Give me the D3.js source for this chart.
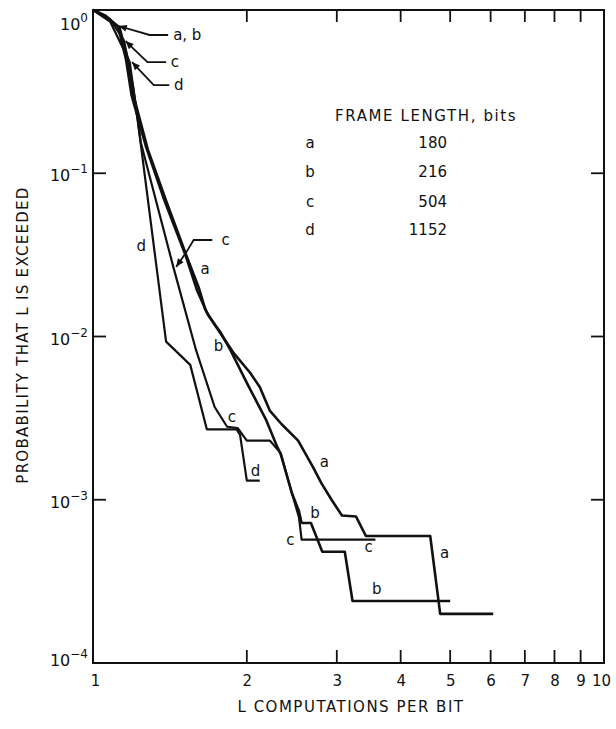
<!DOCTYPE html>
<html><head><meta charset="utf-8">
<script src="https://cdn.jsdelivr.net/npm/d3@7"></script>
<style>
body{margin:0;background:#fff}
svg{display:block}
text{font-family:"DejaVu Sans",sans-serif;fill:#111}
</style>
</head><body>
<svg id="chart" width="616" height="729"></svg>
<script>
// ---------- data ----------
const curveLetters = ["a", "b", "c", "d"];
const frameLengths = ["180", "216", "504", "1152"];
const xTickValues = [1, 2, 3, 4, 5, 6, 7, 8, 9, 10];
const yTickExponents = [0, -1, -2, -3, -4];

// [L computations per bit, probability that L is exceeded]
const curveA = [[1,1],[1.06,0.92],[1.127,0.78],[1.17,0.5],[1.2,0.3],[1.28,0.14],[1.39,0.068],[1.525,0.031],
  [1.61,0.02],[1.66,0.0145],[1.74,0.0115],[1.88,0.008],[2.03,0.006],[2.12,0.0049],[2.22,0.0035],[2.34,0.0029],
  [2.52,0.0023],[2.69,0.0016],[2.8,0.00126],[2.93,0.001],[3.07,0.0008],[3.27,0.00079],[3.42,0.0006],
  [4.57,0.0006],[4.78,0.0002],[6.07,0.0002]];
const curveB = [[1,1],[1.05,0.93],[1.12,0.79],[1.16,0.5],[1.19,0.3],[1.27,0.145],[1.38,0.068],[1.52,0.031],
  [1.6,0.019],[1.68,0.0135],[1.78,0.0105],[1.86,0.0082],[2.0,0.0052],[2.18,0.0031],[2.28,0.0022],[2.33,0.0019],
  [2.45,0.0011],[2.53,0.00085],[2.56,0.00072],[2.67,0.00072],[2.81,0.00048],[3.11,0.00048],[3.22,0.00024],[5.0,0.00024]];
const curveC = [[1,1],[1.08,0.88],[1.15,0.65],[1.2,0.33],[1.24,0.155],[1.436,0.0267],[1.59,0.0083],[1.73,0.0037],
  [1.83,0.0028],[1.92,0.00275],[2.0,0.0023],[2.22,0.0023],[2.33,0.00193],[2.45,0.0011],[2.53,0.00078],
  [2.56,0.00057],[3.57,0.00057]];
const curveD = [[1,1],[1.08,0.85],[1.18,0.48],[1.226,0.2],[1.39,0.0093],[1.55,0.0067],[1.67,0.0027],[1.91,0.0027],
  [1.94,0.0025],[2.0,0.00131],[2.12,0.00131]];

// curve labels placed in data space [L, P]
const curveLabelA = [[1.657,0.0259],[2.836,0.0017],[4.876,0.00047]];
const curveLabelB = [[1.76,0.00875],[2.72,0.00083],[3.592,0.000284]];
const curveLabelC = [[1.869,0.00321],[2.434,0.000567],[3.461,0.000514]];
const curveLabelD = [[1.243,0.0358],[2.08,0.0015]];

// leader annotations: text, polyline from arrow tip outward, text anchor point
const leaderTexts = ["a, b", "c", "d", "c"];
const leaderPaths = [
  [[1.123,0.798],[1.29,0.703],[1.403,0.703]],
  [[1.158,0.645],[1.278,0.48],[1.39,0.48]],
  [[1.192,0.48],[1.315,0.347],[1.41,0.347]],
  [[1.455,0.0267],[1.524,0.033],[1.574,0.039],[1.712,0.039]]
];
const leaderTextAt = [[1.435,0.703],[1.42,0.48],[1.44,0.347],[1.784,0.039]];

// ---------- drawing ----------
const svg = d3.select("#chart");
const L = 93, R = 604, T = 10, B = 663;
const x = d3.scaleLog().domain([1, 10]).range([L, R]);
const y = d3.scaleLog().domain([1e-4, 1]).range([B, T]);
const ink = "#111";

// frame
svg.append("rect").attr("x", L).attr("y", T).attr("width", R - L).attr("height", B - T)
  .attr("fill", "none").attr("stroke", ink).attr("stroke-width", 2);

// x tick labels via axis
const xAxisB = d3.axisBottom(x).tickValues(xTickValues).tickSize(0).tickFormat(d3.format("d"));
const gxb = svg.append("g").attr("transform", `translate(0,${B})`).call(xAxisB);
gxb.select(".domain").remove();
gxb.selectAll("text").attr("font-size", 15).attr("dy", "1.35em")
  .attr("font-family", "DejaVu Sans").attr("fill", ink)
  .attr("dx", d => d === 10 ? -3 : (d === 1 ? 2 : 0));
// inward ticks on bottom and top
xTickValues.filter(v => v > 1 && v < 10).forEach(v => {
  svg.append("line").attr("x1", x(v)).attr("x2", x(v)).attr("y1", B).attr("y2", B - 13)
    .attr("stroke", ink).attr("stroke-width", 1.8);
  svg.append("line").attr("x1", x(v)).attr("x2", x(v)).attr("y1", T).attr("y2", T + 12)
    .attr("stroke", ink).attr("stroke-width", 1.8);
});

// inward ticks on left and right
yTickExponents.filter(e => e < 0 && e > -4).forEach(e => {
  const v = Math.pow(10, e);
  svg.append("line").attr("x1", L).attr("x2", L + 13).attr("y1", y(v)).attr("y2", y(v))
    .attr("stroke", ink).attr("stroke-width", 1.8);
  svg.append("line").attr("x1", R).attr("x2", R - 13).attr("y1", y(v)).attr("y2", y(v))
    .attr("stroke", ink).attr("stroke-width", 1.8);
});
// y tick labels
yTickExponents.forEach(e => {
  const v = Math.pow(10, e);
  const off = e === 0 ? 20 : (e === -4 ? 3 : 8);
  const t = svg.append("text").attr("x", 88).attr("y", y(v) + off)
    .attr("text-anchor", "end").attr("font-size", 16);
  t.append("tspan").text("10");
  t.append("tspan").attr("dy", -8).attr("font-size", 12).text(e === 0 ? "0" : "\u2212" + (-e));
});

// axis titles
svg.append("text").attr("x", 351).attr("y", 712).attr("text-anchor", "middle")
  .attr("font-size", 15).attr("letter-spacing", 1.5).text("L COMPUTATIONS PER BIT");
svg.append("text").attr("transform", `translate(28,335) rotate(-90)`).attr("text-anchor", "middle")
  .attr("font-size", 15).attr("letter-spacing", 1.3).text("PROBABILITY THAT L IS EXCEEDED");

// curves
const line = d3.line().x(d => x(d[0])).y(d => y(d[1]));
const curves = [curveA, curveB, curveC, curveD];
curves.forEach((c, i) => {
  svg.append("path").attr("d", line(c)).attr("fill", "none").attr("stroke", ink)
    .attr("stroke-width", i < 2 ? 2.6 : 2.2).attr("stroke-linejoin", "round");
});

// curve labels
[curveLabelA, curveLabelB, curveLabelC, curveLabelD].forEach((arr, i) => {
  arr.forEach(p => {
    svg.append("text").attr("x", x(p[0])).attr("y", y(p[1])).attr("text-anchor", "middle")
      .attr("dominant-baseline", "central").attr("font-size", 15).text(curveLetters[i]);
  });
});

// leader annotations with arrowheads
leaderPaths.forEach((pts, i) => {
  svg.append("path").attr("d", line(pts)).attr("fill", "none").attr("stroke", ink)
    .attr("stroke-width", 1.8);
  const tx = x(pts[0][0]), ty = y(pts[0][1]);
  const sx = x(pts[1][0]), sy = y(pts[1][1]);
  const ang = Math.atan2(ty - sy, tx - sx);
  const len = 8, w = 3.5;
  const bx = tx - len * Math.cos(ang), by = ty - len * Math.sin(ang);
  const px = -Math.sin(ang) * w, py = Math.cos(ang) * w;
  svg.append("path").attr("d", `M${tx},${ty}L${bx + px},${by + py}L${bx - px},${by - py}Z`)
    .attr("fill", ink);
  const ta = leaderTextAt[i];
  svg.append("text").attr("x", x(ta[0])).attr("y", y(ta[1])).attr("dominant-baseline", "central")
    .attr("font-size", 15).text(leaderTexts[i]);
});

// legend
svg.append("text").attr("x", 335).attr("y", 116).attr("dominant-baseline", "central")
  .attr("font-size", 15).attr("letter-spacing", 1.6).text("FRAME LENGTH, bits");
const rowY = [143, 172, 202, 230];
curveLetters.forEach((c, i) => {
  svg.append("text").attr("x", 310).attr("y", rowY[i]).attr("text-anchor", "middle")
    .attr("dominant-baseline", "central").attr("font-size", 15).text(c);
  svg.append("text").attr("x", 447).attr("y", rowY[i]).attr("text-anchor", "end")
    .attr("dominant-baseline", "central").attr("font-size", 15).text(frameLengths[i]);
});
</script>
</body></html>
